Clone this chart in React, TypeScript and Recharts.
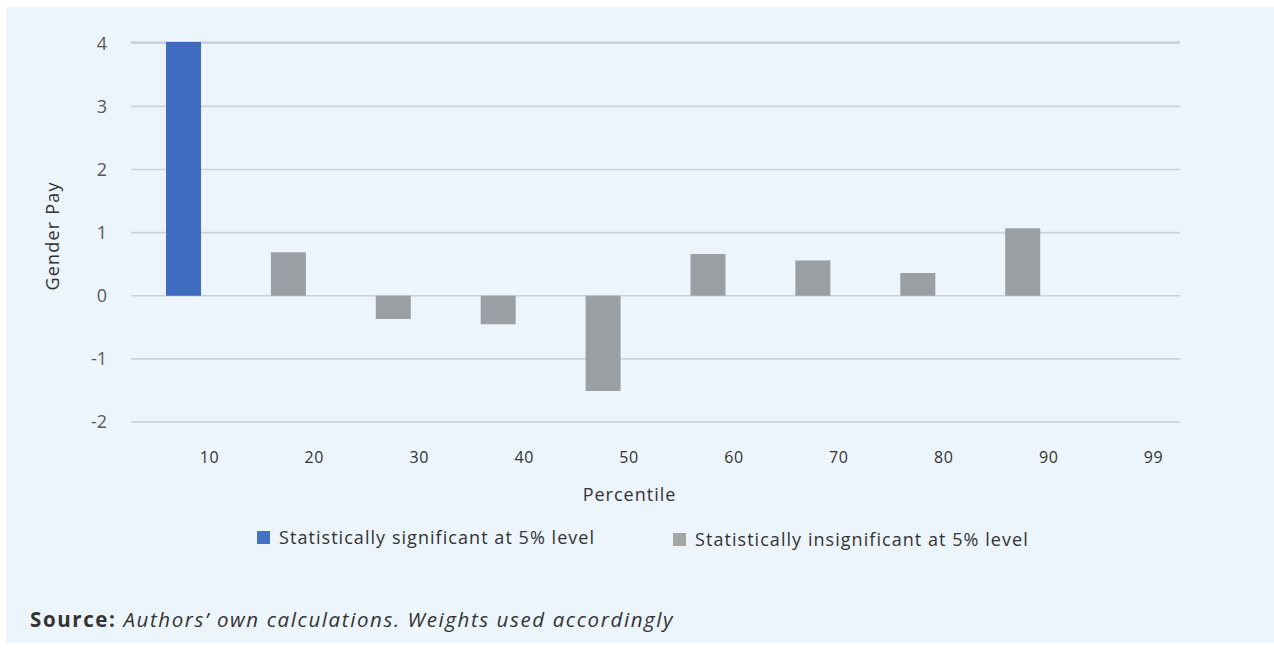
import { BarChart, Bar, Cell, XAxis, YAxis, CartesianGrid } from 'recharts';

const percentiles = ['10', '20', '30', '40', '50', '60', '70', '80', '90', '99'];
const payGap = [4.02, 0.69, -0.37, -0.45, -1.51, 0.66, 0.56, 0.36, 1.07, null];
const significant = [true, false, false, false, false, false, false, false, false, false];
const yTicks = [-2, -1, 0, 1, 2, 3, 4];

const legendItems = [
  { label: 'Statistically significant at 5% level', color: '#4472c4' },
  { label: 'Statistically insignificant at 5% level', color: '#a5a5a5' },
];

const data = percentiles.map((p, i) => ({ name: p, gap: payGap[i], sig: significant[i] }));

const FONT = '"Open Sans", "DejaVu Sans", sans-serif';

export default function App() {
  return (
    <div style={{ position: 'absolute', left: 0, top: 0, width: 1274, height: 648, background: '#ffffff', fontFamily: FONT }}>
      <div style={{ position: 'absolute', left: 6, top: 7, width: 1268, height: 636, background: '#ecf4fc' }}>
        <BarChart width={1268} height={515} data={data} margin={{ top: 35, right: 94, left: 0, bottom: 0 }}>
          <CartesianGrid vertical={false} stroke="#c9d1db" strokeWidth={1.6} />
          <XAxis
            dataKey="name"
            axisLine={false}
            tickLine={false}
            height={100}
            tickMargin={24}
            tick={{ fontSize: 16, fill: '#333333', fontFamily: FONT, dx: 26, letterSpacing: 0.6 }}
            label={{
              content: ({ viewBox }: any) => (
                <text x={viewBox.x + viewBox.width / 2 - 26} y={viewBox.y + 79} textAnchor="middle" fontSize={18} letterSpacing={1} fill="#333333" fontFamily={FONT}>
                  Percentile
                </text>
              ),
            }}
          />
          <YAxis
            domain={[-2, 4]}
            ticks={yTicks}
            axisLine={false}
            tickLine={false}
            width={125}
            tickMargin={18}
            tick={{ fontSize: 18, fill: '#595959', fontFamily: FONT }}
            label={{
              content: ({ viewBox }: any) => {
                const cy = viewBox.y + viewBox.height / 2 + 4;
                return (
                  <text x={46} y={cy} transform={`rotate(-90, 46, ${cy})`} textAnchor="middle" dominantBaseline="central" fontSize={18} letterSpacing={1.2} fill="#333333" fontFamily={FONT}>
                    Gender Pay
                  </text>
                );
              },
            }}
          />
          <Bar dataKey="gap" barSize={35} isAnimationActive={false}>
            {data.map((d, i) => (
              <Cell key={i} fill={d.sig ? '#3e6cc0' : '#9a9fa4'} />
            ))}
          </Bar>
        </BarChart>
        {legendItems.map((item, i) => (
          <div
            key={item.label}
            style={{ position: 'absolute', left: i === 0 ? 251 : 667, top: i === 0 ? 518 : 520, display: 'flex', alignItems: 'center', height: 24 }}
          >
            <span style={{ width: 13, height: 13, background: item.color, display: 'inline-block', marginRight: 9 }} />
            <span style={{ fontSize: 18, letterSpacing: 1.05, color: '#333333', whiteSpace: 'nowrap' }}>{item.label}</span>
          </div>
        ))}
        <div style={{ position: 'absolute', left: 24, top: 598, fontSize: 20.5, letterSpacing: 1.6, color: '#333333', whiteSpace: 'nowrap' }}>
          <b>Source:</b> <i>Authors’ own calculations. Weights used accordingly</i>
        </div>
      </div>
    </div>
  );
}
